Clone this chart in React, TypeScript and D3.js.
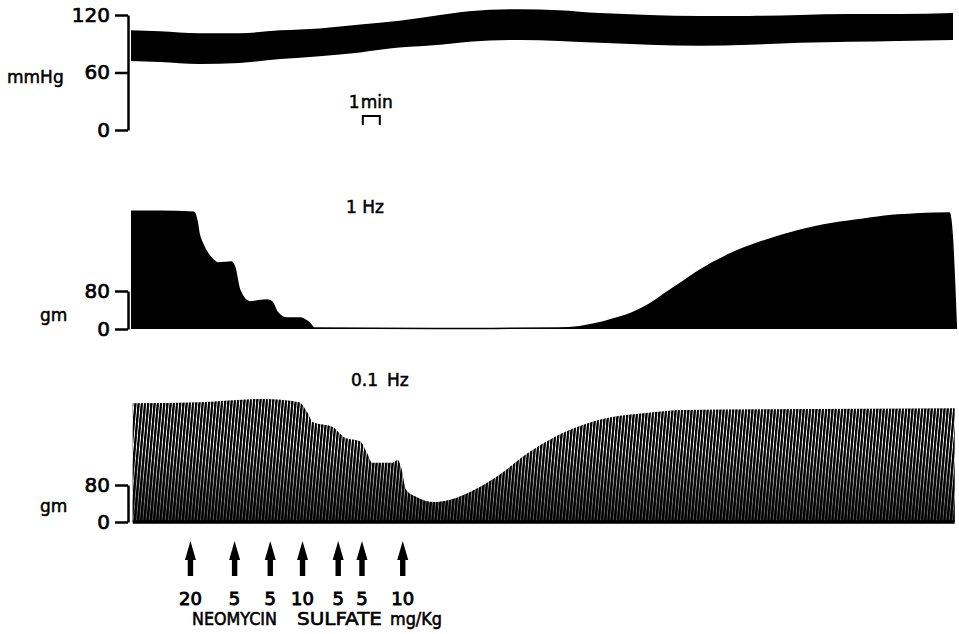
import { useEffect, useRef } from "react";
import * as d3 from "d3";

// Recording time in minutes (about 17 px per minute)
// Arterial pressure band: upper (systolic) and lower (diastolic) edge, mmHg
const bpTime = [0, 1.7, 4.0, 6.4, 8.8, 11.1, 13.5, 15.8, 18.2, 19.9, 22.9, 25.2, 27.6, 30.5, 33.5, 36.4, 39.4, 42.3, 45.2, 48.4];
const bpSys = [104, 103, 101, 101, 104, 106, 110, 114, 120, 124, 126, 125, 122, 120, 119, 119, 120, 121, 121, 122];
const bpDia = [72, 71, 69, 70, 74, 77, 81, 86, 89, 92, 94, 93, 91, 89, 88, 89, 91, 92, 93, 94];

// 1 Hz twitch tension envelope, gm
const hz1Time = [0, 1.7, 3.7, 3.9, 4.0, 4.2, 4.5, 4.8, 5.1, 5.6, 5.9, 6.1, 6.4, 7.0, 7.6, 8.0, 8.3, 8.6, 9.2, 10.0, 10.3, 10.5, 10.8, 18, 25.2, 26.4, 27.6, 28.5, 29.5, 30.5, 31.5, 32.5, 33.5, 35.4, 37.4, 39.4, 41.3, 43.3, 44.5, 46.2, 48.2, 48.6];
const hz1Force = [248, 248, 246, 225, 202, 181, 160, 147, 139, 140, 141, 131, 82, 57, 60, 61, 57, 36, 23, 23, 18, 13, 2, 1, 2, 5, 13, 22, 34, 52, 76, 100, 124, 160, 187, 208, 222, 232, 238, 242, 244, 0];

// 0.1 Hz twitch tension envelope, gm
const hz01Time = [0.1, 4.1, 7.8, 9.9, 10.4, 10.7, 11.9, 12.2, 12.6, 13.5, 13.9, 14.2, 15.4, 15.7, 15.9, 16.2, 16.8, 17.8, 18.8, 20.2, 21.7, 23.2, 24.6, 26.1, 27.6, 30.5, 32.5, 37.4, 43, 48.5];
const hz01Force = [257, 259, 266, 259, 236, 216, 205, 195, 182, 174, 149, 128, 128, 134, 119, 69, 54, 43, 48, 69, 102, 145, 177, 203, 221, 236, 242, 244, 245, 246];

// Neomycin sulfate injections: time (min) and dose (mg/Kg)
const doseTime = [3.5, 6.1, 8.2, 10.1, 12.2, 13.6, 16.0];
const doseMg = ["20", "5", "5", "10", "5", "5", "10"];

const bpTicks = [0, 60, 120];
const gmTicks = [0, 80];
const scaleBarStart = 13.65; // where the 1 min bar sits

const FONT = "DejaVu Sans, sans-serif";
const INK = { fill: "#000", stroke: "#000", strokeWidth: 0.6 };

const x = d3.scaleLinear().domain([0, 48.4]).range([131, 953]);
const yBp = d3.scaleLinear().domain([0, 120]).range([130, 15]);
const y1 = d3.scaleLinear().domain([0, 80]).range([329, 291]);
const y01 = d3.scaleLinear().domain([0, 80]).range([522, 485]);

const Axis = ({ scale, ticks }: { scale: d3.ScaleLinear<number, number>; ticks: number[] }) => {
  const ref = useRef<SVGGElement>(null);
  useEffect(() => {
    if (!ref.current) return;
    const g = d3.select(ref.current);
    g.selectAll("*").remove();
    g.call(d3.axisLeft(scale).tickValues(ticks).tickSize(13).tickSizeOuter(0).tickPadding(5).tickFormat(d3.format("d")));
    g.attr("font-family", FONT).attr("font-size", 20);
    g.select(".domain").attr("stroke", "#000").attr("stroke-width", 2.5);
    g.selectAll(".tick line").attr("stroke", "#000").attr("stroke-width", 2.5);
    g.selectAll(".tick text").attr("fill", "#000").attr("stroke", "#000").attr("stroke-width", 0.7);
  }, [scale, ticks]);
  return <g ref={ref} transform="translate(128,0)" />;
};

export default function App() {
  const bpArea = d3
    .area<number>()
    .x((_, i) => x(bpTime[i]))
    .y0((_, i) => yBp(bpDia[i]))
    .y1((_, i) => yBp(bpSys[i]))
    .curve(d3.curveMonotoneX);

  const hz1Area = d3
    .area<number>()
    .x((_, i) => x(hz1Time[i]))
    .y0(y1(0))
    .y1((d) => y1(d))
    .curve(d3.curveMonotoneX);
  const hz1Line = d3
    .line<number>()
    .x((_, i) => x(hz1Time[i]))
    .y((d) => y1(d))
    .curve(d3.curveMonotoneX);

  const hz01Area = d3
    .area<number>()
    .x((_, i) => x(hz01Time[i]))
    .y0(y01(0))
    .y1((d) => y01(d))
    .curve(d3.curveMonotoneX);

  const base01 = y01(0);

  return (
    <svg width={959} height={634} style={{ position: "absolute", left: 0, top: 0, background: "#fff" }} fontFamily={FONT}>
      <defs>
        <pattern id="twitch" width={3.2} height={10} patternUnits="userSpaceOnUse" patternTransform="skewX(-5)">
          <rect width={3.2} height={10} fill="#fff" />
          <rect width={2.3} height={10} fill="#000" />
        </pattern>
        <linearGradient id="dense" gradientUnits="userSpaceOnUse" x1={0} y1={base01 - 75} x2={0} y2={base01}>
          <stop offset="0" stopColor="#000" stopOpacity={0} />
          <stop offset="1" stopColor="#000" stopOpacity={0.7} />
        </linearGradient>
      </defs>

      {/* arterial pressure */}
      <Axis scale={yBp} ticks={bpTicks} />
      <text x={7} y={83} fontSize={17} {...INK} strokeWidth={0.5}>mmHg</text>
      <path d={bpArea(bpSys) ?? ""} fill="#000" />

      {/* 1 min scale bar */}
      <text x={x(scaleBarStart) - 14} y={108} fontSize={17} {...INK} strokeWidth={0.5}>1</text>
      <text x={x(scaleBarStart) - 2} y={108} fontSize={17} {...INK} strokeWidth={0.5}>min</text>
      <path
        d={`M${x(scaleBarStart)},125 V116 H${x(scaleBarStart + 1)} V125`}
        fill="none"
        stroke="#000"
        strokeWidth={2}
      />

      {/* 1 Hz */}
      <text x={346} y={213} fontSize={17} {...INK} strokeWidth={0.5}>1 Hz</text>
      <Axis scale={y1} ticks={gmTicks} />
      <text x={40} y={321} fontSize={17} {...INK} strokeWidth={0.5}>gm</text>
      <path d={hz1Area(hz1Force) ?? ""} fill="#000" />
      <path d={hz1Line(hz1Force) ?? ""} fill="none" stroke="#000" strokeWidth={1.5} />

      {/* 0.1 Hz */}
      <text x={351} y={386} fontSize={17} {...INK} strokeWidth={0.5}>0.1</text>
      <text x={387} y={386} fontSize={17} {...INK} strokeWidth={0.5}>Hz</text>
      <Axis scale={y01} ticks={gmTicks} />
      <text x={40} y={512} fontSize={17} {...INK} strokeWidth={0.5}>gm</text>
      <path d={hz01Area(hz01Force) ?? ""} fill="url(#twitch)" />
      <path d={hz01Area(hz01Force) ?? ""} fill="url(#dense)" />
      <line
        x1={x(hz01Time[0])}
        x2={x(hz01Time[hz01Time.length - 1])}
        y1={base01}
        y2={base01}
        stroke="#000"
        strokeWidth={3.5}
      />

      {/* injections */}
      {doseTime.map((t, i) => {
        const cx = x(t);
        return (
          <g key={i}>
            <path d={`M${cx},541 L${cx + 5.5},560 L${cx - 5.5},560 Z`} fill="#000" />
            <rect x={cx - 2.7} y={556} width={5.4} height={20} fill="#000" />
            <text x={cx} y={605} fontSize={18} textAnchor="middle" {...INK} strokeWidth={0.9}>
              {doseMg[i]}
            </text>
          </g>
        );
      })}
      <text x={192} y={625} fontSize={18} textLength={85} lengthAdjust="spacingAndGlyphs" {...INK}>NEOMYCIN</text>
      <text x={297} y={625} fontSize={18} textLength={85} lengthAdjust="spacingAndGlyphs" {...INK}>SULFATE</text>
      <text x={390} y={625} fontSize={18} textLength={52} lengthAdjust="spacingAndGlyphs" {...INK}>mg/Kg</text>
    </svg>
  );
}
